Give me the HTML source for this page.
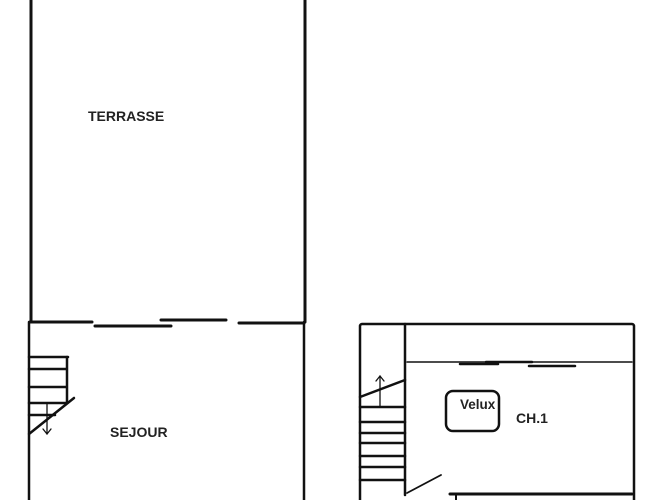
<!DOCTYPE html>
<html><head><meta charset="utf-8"><style>
html,body{margin:0;padding:0;background:#fff;width:667px;height:500px;overflow:hidden}
text{font-family:"Liberation Sans",sans-serif;font-weight:bold;fill:#222}
</style></head><body>
<svg width="667" height="500" viewBox="0 0 667 500" xmlns="http://www.w3.org/2000/svg">
<g stroke="#111" fill="none" stroke-linecap="round">
<!-- terrasse -->
<line x1="31" y1="0" x2="31" y2="322" stroke-width="3"/>
<line x1="305" y1="0" x2="305" y2="322" stroke-width="3"/>
<!-- sejour -->
<line x1="29" y1="322" x2="29" y2="500" stroke-width="2.5"/>
<line x1="304" y1="322" x2="304" y2="500" stroke-width="2.5"/>
<line x1="30" y1="322" x2="92" y2="322" stroke-width="3"/>
<line x1="95" y1="326" x2="171" y2="326" stroke-width="3"/>
<line x1="161" y1="320" x2="226" y2="320" stroke-width="3"/>
<line x1="239" y1="323" x2="304" y2="323" stroke-width="3"/>
<!-- stairs left -->
<g stroke-width="2.5">
<line x1="29" y1="357" x2="68" y2="357"/>
<line x1="29" y1="369" x2="66" y2="369"/>
<line x1="29" y1="387" x2="66" y2="387"/>
<line x1="29" y1="403" x2="66" y2="403"/>
<line x1="29" y1="415" x2="55" y2="415"/>
<line x1="67" y1="357" x2="67" y2="403"/>
<line x1="29" y1="434" x2="74" y2="398"/>
</g>
<line x1="47" y1="403" x2="47" y2="434" stroke-width="1.3"/>
<polyline points="43,429 47,434 51,429" stroke-width="1.3"/>
<!-- right -->
<rect x="360" y="324" width="274" height="190" rx="2" stroke-width="2.5"/>
<line x1="405" y1="324" x2="405" y2="495" stroke-width="2.5"/>
<line x1="407" y1="362" x2="632" y2="362" stroke-width="1.5"/>
<line x1="460" y1="364" x2="498" y2="364" stroke-width="2.5"/>
<line x1="486" y1="362" x2="532" y2="362" stroke-width="2.5"/>
<line x1="529" y1="366" x2="575" y2="366" stroke-width="2.5"/>
<g stroke-width="2.5">
<line x1="360" y1="407" x2="405" y2="407"/>
<line x1="360" y1="422" x2="405" y2="422"/>
<line x1="360" y1="433" x2="405" y2="433"/>
<line x1="360" y1="443" x2="405" y2="443"/>
<line x1="360" y1="456" x2="405" y2="456"/>
<line x1="360" y1="467" x2="405" y2="467"/>
<line x1="360" y1="480" x2="405" y2="480"/>
<line x1="360" y1="397" x2="405" y2="380"/>
</g>
<line x1="380" y1="407" x2="380" y2="376" stroke-width="1.3"/>
<polyline points="376,381 380,376 384,381" stroke-width="1.3"/>
<rect x="446" y="391" width="53" height="40" rx="7" stroke-width="2.5"/>
<line x1="407" y1="493" x2="441" y2="475" stroke-width="1.8"/>
<line x1="450" y1="494" x2="632" y2="494" stroke-width="3"/>
<line x1="456" y1="494" x2="456" y2="500" stroke-width="2"/>
</g>
<text x="88" y="121" font-size="14">TERRASSE</text>
<text x="110" y="437" font-size="14">SEJOUR</text>
<text x="460" y="409" font-size="13.5">Velux</text>
<text x="516" y="423" font-size="14">CH.1</text>
</svg>
</body></html>
